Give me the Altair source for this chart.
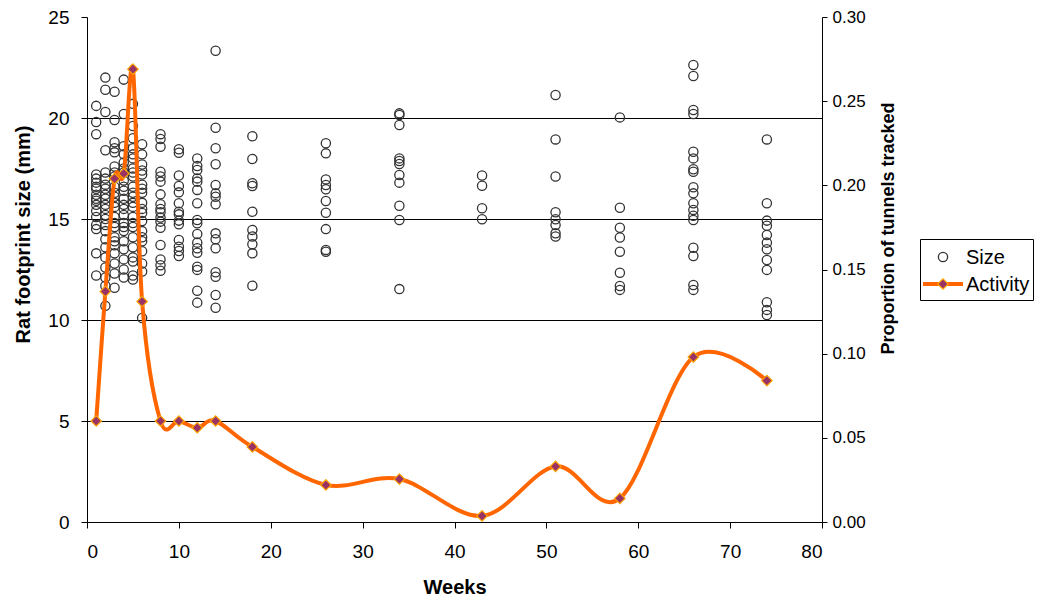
import altair as alt
import pandas as pd

# ---- data ----
size_w1 = [20.6, 19.8, 19.2, 17.2, 17.0, 16.8, 16.6, 16.5, 16.2, 16.0, 15.9, 15.7, 15.4, 15.1, 14.7, 14.5, 13.3, 12.2]
size_w2 = [22.0, 21.4, 20.3, 18.4, 17.3, 17.0, 16.7, 16.5, 16.2, 16.0, 15.7, 15.5, 15.2, 15.0, 14.7, 14.4, 14.0, 13.6, 13.1, 12.6, 12.1, 11.7, 10.7]
size_w3 = [21.3, 19.9, 18.8, 18.5, 18.3, 17.6, 17.3, 17.1, 16.6, 16.3, 16.1, 15.8, 15.6, 15.1, 14.8, 14.6, 14.1, 13.9, 13.7, 13.3, 12.8, 12.3, 11.6]
size_w4 = [21.9, 20.2, 18.6, 18.2, 17.8, 17.5, 17.3, 16.9, 16.6, 16.4, 16.0, 15.7, 15.5, 15.2, 14.8, 14.6, 14.4, 13.9, 13.5, 13.0, 12.5, 12.1]
size_w5 = [20.7, 19.6, 19.0, 18.5, 18.2, 18.0, 17.5, 17.3, 17.1, 16.6, 16.3, 16.1, 15.8, 15.6, 15.1, 14.8, 14.6, 14.1, 13.6, 13.1, 12.9, 12.2, 12.0]
size_w6 = [18.7, 18.2, 17.7, 17.4, 17.2, 16.7, 16.5, 16.3, 15.8, 15.5, 15.3, 14.9, 14.4, 14.1, 13.9, 13.4, 12.8, 12.4, 10.1]
size_w8 = [19.2, 18.96, 18.58, 17.34, 17.1, 16.85, 16.22, 15.73, 15.5, 15.33, 15.07, 14.87, 14.57, 13.71, 13.0, 12.71, 12.44]
size_w10 = [18.45, 18.28, 17.15, 16.63, 16.32, 15.78, 15.36, 15.23, 14.92, 14.74, 13.96, 13.63, 13.42, 13.17]
size_w12 = [18.0, 17.62, 17.43, 17.01, 16.85, 16.44, 15.78, 14.95, 14.79, 14.26, 13.83, 13.55, 13.33, 12.64, 12.48, 11.45, 10.86]
size_w14 = [23.33, 19.52, 18.5, 17.71, 16.68, 16.27, 16.1, 15.73, 14.29, 14.0, 13.55, 12.36, 12.14, 11.24, 10.61]
size_w18 = [19.1, 17.97, 16.77, 16.63, 15.36, 14.46, 14.13, 13.75, 13.3, 11.7]
size_w26 = [18.75, 18.25, 16.96, 16.68, 16.47, 15.89, 15.31, 14.5, 13.47, 13.38]
size_w34 = [20.23, 20.15, 19.65, 18.0, 17.87, 17.72, 17.18, 16.8, 15.66, 14.95, 11.53]
size_w43 = [17.15, 16.65, 15.53, 14.99]
size_w51 = [21.14, 18.94, 17.1, 15.33, 14.99, 14.7, 14.29, 14.13]
size_w58 = [20.03, 15.56, 14.57, 14.08, 13.38, 12.34, 11.68, 11.49]
size_w66 = [22.62, 22.08, 20.4, 20.2, 18.33, 18.0, 17.46, 17.34, 16.57, 16.27, 15.78, 15.45, 15.16, 14.95, 13.58, 13.17, 11.73, 11.49]
size_w74 = [18.94, 15.78, 14.92, 14.67, 14.21, 13.83, 13.5, 12.97, 12.48, 10.88, 10.5, 10.25]

size_weeks = [1, 2, 3, 4, 5, 6, 8, 10, 12, 14, 18, 26, 34, 43, 51, 58, 66, 74]
size_lists = [size_w1, size_w2, size_w3, size_w4, size_w5, size_w6, size_w8, size_w10,
              size_w12, size_w14, size_w18, size_w26, size_w34, size_w43, size_w51,
              size_w58, size_w66, size_w74]

activity_weeks = [1, 2, 3, 4, 5, 6, 8, 10, 12, 14, 18, 26, 34, 43, 51, 58, 66, 74]
activity_vals = [0.060, 0.137, 0.204, 0.207, 0.269, 0.131, 0.060, 0.060, 0.056, 0.060,
                 0.0446, 0.022, 0.0255, 0.0036, 0.033, 0.014, 0.098, 0.084]

gridlines = [5, 10, 15, 20]
left_ticks = [0, 5, 10, 15, 20, 25]
right_ticks = [0, 0.05, 0.10, 0.15, 0.20, 0.25, 0.30]
x_ticks = [0, 10, 20, 30, 40, 50, 60, 70, 80]

size_df = pd.DataFrame(
    [(w, v) for w, lst in zip(size_weeks, size_lists) for v in lst],
    columns=["week", "size"],
)
act_df = pd.DataFrame({"week": activity_weeks, "activity": activity_vals})
grid_df = pd.DataFrame({"g": gridlines})

FONT = "Liberation Sans"
W, H = 735, 505

x_enc = alt.X(
    "week:Q",
    scale=alt.Scale(domain=[0, 80], nice=False, zero=False),
    axis=alt.Axis(values=x_ticks, title="Weeks", grid=False, labelFontSize=19,
                  titleFontSize=20, titleFontWeight="bold", tickSize=6,
                  labelPadding=14, titlePadding=16),
)

left_axis = alt.Axis(values=left_ticks, title="Rat footprint size (mm)", grid=False,
                     labelFontSize=19, titleFontSize=20, titleFontWeight="bold",
                     tickSize=6, labelPadding=12, titleAngle=270,
                     titleX=-64, titleY=217, titleAlign="center",
                     titleBaseline="middle")
left_scale = alt.Scale(domain=[0, 25], nice=False, zero=True)

grid = alt.Chart(grid_df).mark_rule(color="#000000", strokeWidth=1, yOffset=0.5).encode(
    y=alt.Y("g:Q", scale=left_scale, axis=left_axis)
)

scatter = alt.Chart(size_df).mark_point(
    shape="circle", filled=False, size=85, stroke="#333333", strokeWidth=1.3, opacity=1
).encode(
    x=x_enc,
    y=alt.Y("size:Q", scale=left_scale, axis=left_axis),
)

right_axis = alt.Axis(values=right_ticks, format=".2f", orient="right",
                      title="Proportion of tunnels tracked", grid=False,
                      labelFontSize=17, titleFontSize=18, titleFontWeight="bold",
                      tickSize=5, labelPadding=5, titleAngle=270,
                      titleX=66, titleY=211, titleAlign="center",
                      titleBaseline="middle")
right_scale = alt.Scale(domain=[0, 0.30], nice=False, zero=True)

line = alt.Chart(act_df).mark_line(
    interpolate="cardinal", color="#FF6600", strokeWidth=4
).encode(
    x=x_enc,
    y=alt.Y("activity:Q", scale=right_scale, axis=right_axis),
)
diamonds = alt.Chart(act_df).mark_point(
    shape="diamond", filled=True, fill="#993366", stroke="#FFA500",
    strokeWidth=1.2, size=110, opacity=1
).encode(
    x=x_enc,
    y=alt.Y("activity:Q", scale=right_scale, axis=right_axis),
)

# ---- legend (drawn manually) ----
leg_box = alt.Chart(pd.DataFrame({"k": [0]})).mark_rect(
    fill="white", stroke="black", strokeWidth=1
).encode(x=alt.value(833.5), x2=alt.value(946.5), y=alt.value(222.5), y2=alt.value(283.5))
leg_circle = alt.Chart(pd.DataFrame({"k": ["Size"]})).mark_point(
    shape="circle", filled=False, size=85, stroke="#333333", strokeWidth=1.3, opacity=1
).encode(x=alt.value(856), y=alt.value(240))
leg_size_txt = alt.Chart(pd.DataFrame({"k": ["Size"]})).mark_text(
    align="left", baseline="middle", fontSize=20, font=FONT, color="black"
).encode(x=alt.value(879), y=alt.value(241), text="k:N")
leg_line = alt.Chart(pd.DataFrame({"k": ["Activity"]})).mark_rule(
    color="#FF6600", strokeWidth=4
).encode(x=alt.value(836), x2=alt.value(876), y=alt.value(267))
leg_diamond = alt.Chart(pd.DataFrame({"k": ["Activity"]})).mark_point(
    shape="diamond", filled=True, fill="#993366", stroke="#FFA500",
    strokeWidth=1.2, size=110, opacity=1
).encode(x=alt.value(856), y=alt.value(267))
leg_act_txt = alt.Chart(pd.DataFrame({"k": ["Activity"]})).mark_text(
    align="left", baseline="middle", fontSize=20, font=FONT, color="black"
).encode(x=alt.value(879), y=alt.value(268), text="k:N")

left = alt.layer(grid, scatter)
right = alt.layer(line, diamonds)
legend = alt.layer(leg_box, leg_circle, leg_size_txt, leg_line, leg_diamond, leg_act_txt)

chart = alt.layer(left, right, legend).resolve_scale(y="independent").properties(
    width=W, height=H,
    autosize=alt.AutoSizeParams(type="none"),
    padding={"left": 79, "top": 9, "right": 213, "bottom": 75},
).configure_view(stroke=None).configure_axis(
    domainColor="black", tickColor="black", labelColor="black", titleColor="black",
    labelFont=FONT, titleFont=FONT, domainWidth=1, tickWidth=1,
).configure_text(font=FONT)

chart.save("out.html", embed_options={"renderer": "svg", "actions": False})
